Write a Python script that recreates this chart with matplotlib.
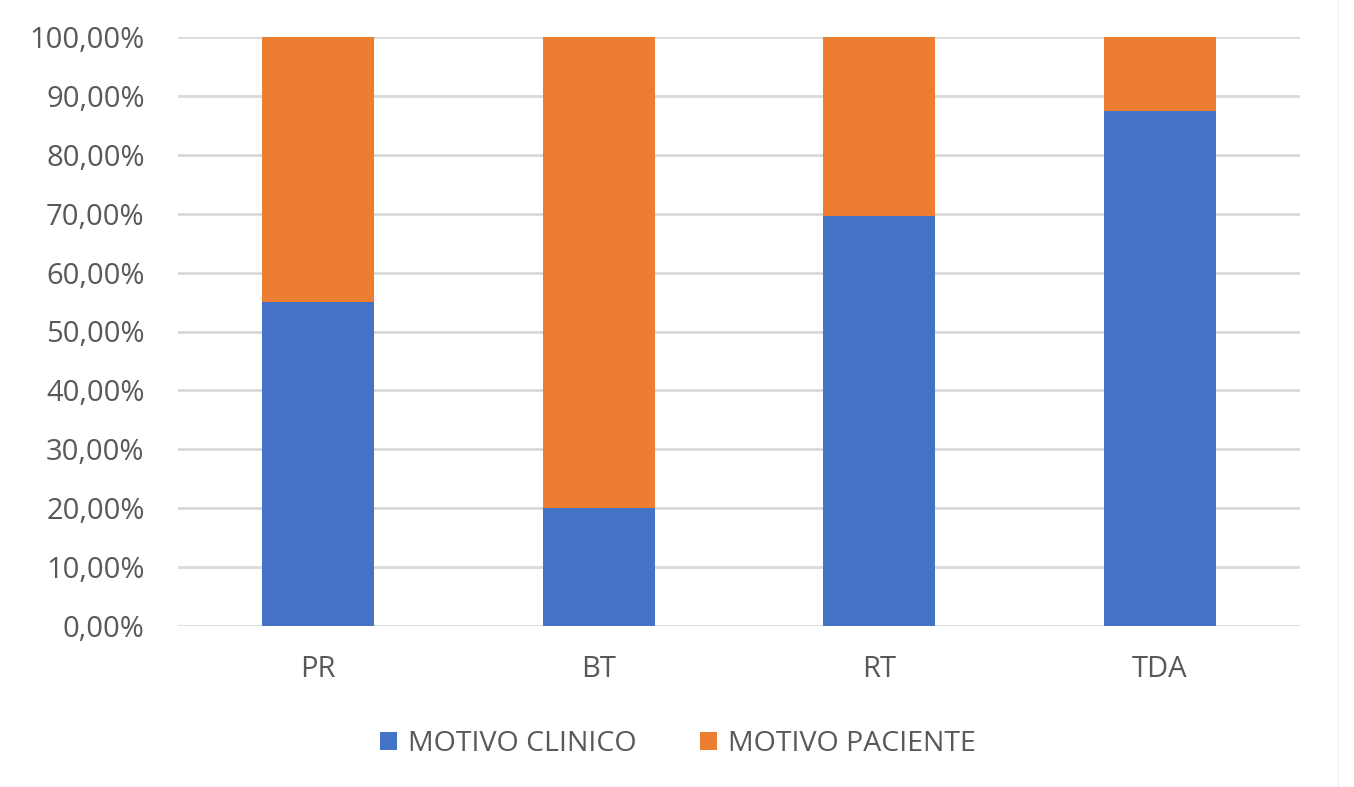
import matplotlib
matplotlib.use("Agg")
import matplotlib.pyplot as plt
from matplotlib.patches import Patch
from matplotlib.lines import Line2D
from matplotlib.ticker import FuncFormatter

categories = ["PR", "BT", "RT", "TDA"]
motivo_clinico = [55.0, 20.0, 69.6, 87.5]
motivo_paciente = [100 - v for v in motivo_clinico]
series_names = ["MOTIVO CLINICO", "MOTIVO PACIENTE"]

blue = "#4472C4"
orange = "#ED7D31"
text_gray = "#595959"

plt.rcParams["font.family"] = ["Open Sans", "DejaVu Sans"]

fig = plt.figure(figsize=(13.54, 7.87), dpi=100)
ax = fig.add_axes([178 / 1354, 1 - 626 / 787, (1300 - 178) / 1354, (626 - 37) / 787])

x = range(len(categories))
ax.bar(x, motivo_clinico, width=0.4, color=blue, zorder=3)
ax.bar(x, motivo_paciente, width=0.4, bottom=motivo_clinico, color=orange, zorder=3)

ax.set_xlim(-0.5, len(categories) - 0.5)
ax.set_ylim(0, 100)
ax.set_yticks(range(0, 101, 10))
ax.yaxis.set_major_formatter(FuncFormatter(lambda v, _: f"{v:.2f}%".replace(".", ",")))
ax.set_xticks(list(x))
ax.set_xticklabels(categories)

ax.grid(axis="y", color="#D9D9D9", linewidth=2, zorder=0)
for s in ax.spines.values():
    s.set_visible(False)
ax.tick_params(axis="both", length=0, labelsize=21, labelcolor=text_gray)
ax.tick_params(axis="y", pad=24)
ax.tick_params(axis="x", pad=21)

handles = [Patch(facecolor=blue, edgecolor="none"), Patch(facecolor=orange, edgecolor="none")]
fig.legend(handles, series_names, loc="center", bbox_to_anchor=(678 / 1354, 1 - 744 / 787),
           ncol=2, frameon=False, fontsize=20.5, labelcolor=text_gray,
           handlelength=0.6, handleheight=0.6, handletextpad=0.4, columnspacing=2.2)

# faint right border of the chart area
fig.add_artist(Line2D([1338 / 1354, 1338 / 1354], [0, 1], color="#F0F0F0", linewidth=1,
                      transform=fig.transFigure))

fig.savefig("out.png", dpi=100, facecolor="white")
